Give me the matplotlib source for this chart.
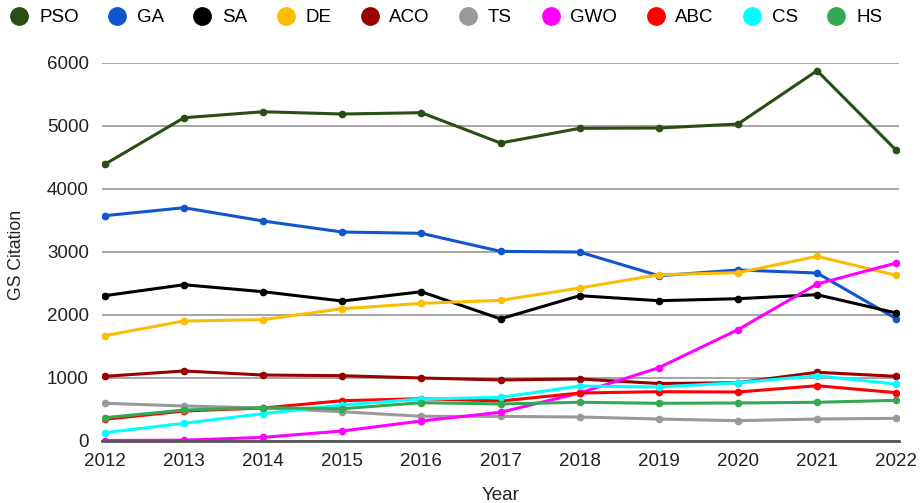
import numpy as np
import matplotlib.pyplot as plt

plt.rcParams['font.family'] = ['Liberation Sans', 'DejaVu Sans']

years = list(range(2012, 2023))
names = ['PSO', 'GA', 'SA', 'DE', 'ACO', 'TS', 'GWO', 'ABC', 'CS', 'HS']
colors = ['#274e13', '#1155cc', '#000000', '#fbbc04', '#990000',
          '#999999', '#ff00ff', '#ff0000', '#00ffff', '#34a853']

pso = [4386, 5126, 5221, 5185, 5206, 4724, 4958, 4963, 5026, 5873, 4609]
ga = [3570, 3697, 3486, 3311, 3290, 3004, 2993, 2617, 2708, 2660, 1934]
sa = [2300, 2474, 2363, 2215, 2363, 1932, 2300, 2220, 2252, 2316, 2025]
de = [1665, 1898, 1919, 2093, 2178, 2226, 2422, 2633, 2665, 2925, 2623]
aco = [1019, 1104, 1040, 1029, 993, 961, 977, 905, 918, 1083, 1019]
ts = [591, 548, 516, 457, 384, 383, 373, 341, 315, 341, 352]
gwo = [0, 5, 50, 151, 310, 448, 754, 1156, 1760, 2485, 2819]
abc = [336, 468, 516, 632, 664, 627, 754, 775, 770, 870, 759]
cs = [124, 273, 426, 564, 659, 685, 865, 850, 918, 1029, 897]
hs = [362, 484, 521, 505, 600, 580, 607, 591, 596, 607, 638]
series = [pso, ga, sa, de, aco, ts, gwo, abc, cs, hs]

fig = plt.figure(figsize=(9.21, 5.03), dpi=100)
ax = fig.add_axes([102/921, 1 - 440.5/503, 797/921, 377.8/503])

for name, col, vals in zip(names, colors, series):
    ax.plot(years, vals, color=col, lw=2.2, marker='o', markersize=4.5,
            label=name, solid_joinstyle='round')

ax.set_xlim(2012 - 0.035, 2022 + 0.035)
ax.set_ylim(0, 6000)
ax.set_xticks(years)
ax.set_yticks([0, 1000, 2000, 3000, 4000, 5000, 6000])
ax.yaxis.grid(True, color='#9e9e9e', lw=1.3)
ax.set_axisbelow(True)
for s in ['top', 'right', 'left']:
    ax.spines[s].set_visible(False)
ax.spines['bottom'].set_color('#555555')
ax.spines['bottom'].set_linewidth(2)
ax.tick_params(length=0, labelsize=13.5, colors='#222222')
ax.tick_params(axis='y', pad=9.5)
ax.tick_params(axis='x', pad=9)

ax.set_ylabel('GS Citation', fontsize=12.7, color='#222222')
ax.yaxis.set_label_coords(-0.097, 0.49)
ax.set_xlabel('Year', fontsize=13.5, color='#222222', va='baseline')
ax.xaxis.set_label_coords(0.5, -0.157)

handles = [plt.Line2D([], [], ls='none', marker='o', markersize=12.5, color=c)
           for c in colors]
fig.legend(handles, names, loc='upper left', bbox_to_anchor=(10/921, 1 - 9/503),
           ncol=10, frameon=False, fontsize=13.5, handlelength=1.0,
           handletextpad=0.55, columnspacing=1.55, borderpad=0, borderaxespad=0)

fig.savefig('out.png', dpi=100)
